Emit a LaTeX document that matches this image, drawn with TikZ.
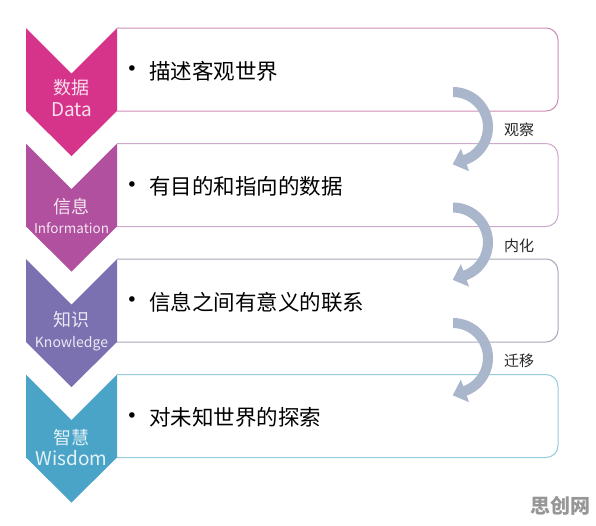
\documentclass[tikz,border=0pt]{standalone}
\usepackage{fontspec}
\setmainfont{Noto Sans CJK SC}
\newfontfamily\bulletfont{DejaVu Sans}
\usetikzlibrary{calc}
\definecolor{chA}{RGB}{214,51,138}
\definecolor{chB}{RGB}{178,80,160}
\definecolor{chC}{RGB}{123,112,176}
\definecolor{chD}{RGB}{74,164,200}
\definecolor{bdA}{RGB}{206,140,182}
\definecolor{bdB}{RGB}{204,170,204}
\definecolor{bdC}{RGB}{168,168,186}
\definecolor{bdD}{RGB}{150,204,222}
\definecolor{arrowc}{RGB}{170,182,204}
\definecolor{wmark}{RGB}{150,150,150}
\tikzset{
  boxline/.style={line width=1pt, fill=white, rounded corners=12},
  bodytext/.style={anchor=west, inner sep=0pt, text=black, font=\fontsize{21.5}{24}\selectfont},
  bulletmark/.style={inner sep=0pt, text=black, font=\bulletfont\fontsize{19}{22}\selectfont},
  cnlabel/.style={inner sep=0pt, font=\fontsize{18}{20}\selectfont},
  arrowlabel/.style={inner sep=0pt, text=black!85, font=\fontsize{15}{17}\selectfont},
}
% #1 top y, #2 chevron colour, #3 box border colour, #4 name
\newcommand\dikwrow[4]{%
  \draw[boxline, draw=#3] (117,#1) -- (558,#1) -- (558,#1+83) -- (117,#1+83);
  \fill[#2] (26,#1) -- (71.5,#1+45.5) -- (117,#1) -- (117,#1+83)
     -- (71.5,#1+128) -- (26,#1+83) -- cycle;
  \coordinate (#4) at (71.5,#1);
}
% #1 centre x, #2 centre y, #3 name
\newcommand\turnarrow[3]{%
  \coordinate (#3) at (#1,#2);
  \fill[arrowc] ($(#3)+(-90:40)$) arc[start angle=-90,end angle=70,radius=40]
     -- ($(#3)+(70:47)$) -- ($(#3)+(70:35)+(160:13)$) -- ($(#3)+(70:23)$)
     -- ($(#3)+(70:30)$) arc[start angle=70,end angle=-90,radius=30] -- cycle;
}
\begin{document}
\begin{tikzpicture}[x=1pt,y=-1pt]
\useasboundingbox[fill=white] (0,0) rectangle (596,525);

\dikwrow{28}{chA}{bdA}{rowA}
\dikwrow{143.5}{chB}{bdB}{rowB}
\dikwrow{259}{chC}{bdC}{rowC}
\dikwrow{374.5}{chD}{bdD}{rowD}

% chevron labels
\node[cnlabel, text=white!85!chA] (labA1) at (71.5,88) {数据};
\node[cnlabel, text=white!85!chA, font=\fontsize{19}{21}\selectfont] (labA2) at (71.5,110) {Data};
\node[cnlabel, text=white!85!chB] (labB1) at (71.5,207) {信息};
\node[cnlabel, text=white!85!chB, font=\fontsize{13.5}{15}\selectfont] (labB2) at (71.5,228) {Information};
\node[cnlabel, text=white!85!chC] (labC1) at (71.5,320) {知识};
\node[cnlabel, text=white!85!chC, font=\fontsize{14}{16}\selectfont] (labC2) at (71.5,344) {Knowledge};
\node[cnlabel, text=white!85!chD] (labD1) at (71.5,438) {智慧};
\node[cnlabel, text=white!85!chD, font=\fontsize{19}{21}\selectfont] (labD2) at (71.5,458) {Wisdom};

% box texts
\node[bulletmark] (bulA) at (132,71) {•};
\node[bodytext] (txtA) at (149,71) {描述客观世界};
\node[bulletmark] (bulB) at (132,186.5) {•};
\node[bodytext] (txtB) at (149,186.5) {有目的和指向的数据};
\node[bulletmark] (bulC) at (132,302) {•};
\node[bodytext] (txtC) at (149,302) {信息之间有意义的联系};
\node[bulletmark] (bulD) at (132,417.5) {•};
\node[bodytext] (txtD) at (149,417.5) {对未知世界的探索};

% curved arrows
\turnarrow{453}{127}{arrA}
\turnarrow{453}{242.5}{arrB}
\turnarrow{453}{358}{arrC}
\node[arrowlabel] (obs) at (519,130) {观察};
\node[arrowlabel] (int) at (519,245.5) {内化};
\node[arrowlabel] (mig) at (519,361) {迁移};

% watermark
\node[inner sep=0pt, text=wmark, font=\fontsize{20}{22}\selectfont\bfseries] (wm) at (560,506) {思创网};
\end{tikzpicture}
\end{document}
